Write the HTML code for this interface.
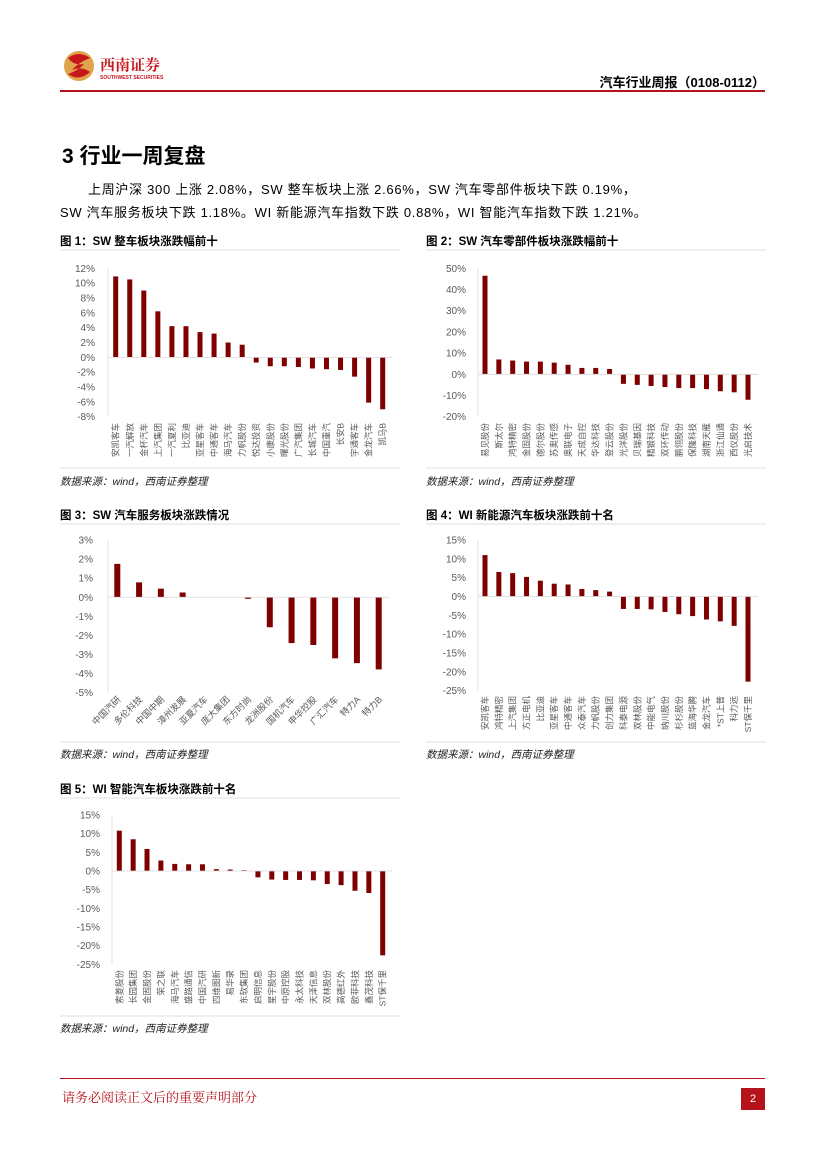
<!DOCTYPE html>
<html><head><meta charset="utf-8">
<style>
body{margin:0;background:#fff;}
#page{position:relative;width:827px;height:1169px;overflow:hidden;background:#fff;font-family:"Liberation Sans","Noto Sans CJK SC",sans-serif;color:#000;}
.abs{position:absolute;white-space:nowrap;}
.ftitle{font-size:11.5px;font-weight:bold;}
.src{font-size:10.5px;font-style:italic;color:#222;}
.para{font-size:13px;letter-spacing:0.7px;}
</style></head><body>
<div id="page">
  <svg class="abs" style="left:62px;top:48px" width="110" height="40">
    <circle cx="17" cy="18" r="15" fill="#e0a44a"/>
    <path d="M6 10 Q17 2 28 10 Q17 14 10 22 Q20 18 28 24 Q17 34 6 26 Q17 22 22 16 Q12 18 6 10Z" fill="#c8161d"/>
    <text x="38" y="22" font-size="15" font-weight="bold" fill="#c8161d" font-family="Noto Serif CJK SC,serif">西南证券</text>
    <text x="38" y="31" font-size="5" font-weight="bold" fill="#c8161d">SOUTHWEST SECURITIES</text>
  </svg>
  <div class="abs" style="right:62px;top:72px;font-size:13px;font-weight:bold">汽车行业周报（0108-0112）</div>
  <div class="abs" style="left:60px;top:90px;width:705px;height:2px;background:#b5121b"></div>

  <div class="abs" style="left:62px;top:140px;font-size:21px;font-weight:bold">3 行业一周复盘</div>
  <div class="abs para" style="left:88px;top:179px">上周沪深 300 上涨 2.08%，SW 整车板块上涨 2.66%，SW 汽车零部件板块下跌 0.19%，</div>
  <div class="abs para" style="left:60px;top:202px">SW 汽车服务板块下跌 1.18%。WI 新能源汽车指数下跌 0.88%，WI 智能汽车指数下跌 1.21%。</div>

  <div class="abs ftitle" style="left:60px;top:233px">图 1：SW 整车板块涨跌幅前十</div>
  <div class="abs ftitle" style="left:426px;top:233px">图 2：SW 汽车零部件板块涨跌幅前十</div>
  <div class="abs src" style="left:60px;top:474px">数据来源：wind，西南证券整理</div>
  <div class="abs src" style="left:426px;top:474px">数据来源：wind，西南证券整理</div>
  <div class="abs ftitle" style="left:60px;top:507px">图 3：SW 汽车服务板块涨跌情况</div>
  <div class="abs ftitle" style="left:426px;top:507px">图 4：WI 新能源汽车板块涨跌前十名</div>
  <div class="abs src" style="left:60px;top:747px">数据来源：wind，西南证券整理</div>
  <div class="abs src" style="left:426px;top:747px">数据来源：wind，西南证券整理</div>
  <div class="abs ftitle" style="left:60px;top:781px">图 5：WI 智能汽车板块涨跌前十名</div>
  <div class="abs src" style="left:60px;top:1021px">数据来源：wind，西南证券整理</div>

  <svg id="charts" class="abs" style="left:0;top:0" width="827" height="1169"></svg>

  <div class="abs" style="left:60px;top:1078px;width:705px;height:1px;background:#b5121b"></div>
  <div class="abs" style="left:62px;top:1087px;font-size:13px;color:#b5121b;font-family:'Noto Serif CJK SC',serif">请务必阅读正文后的重要声明部分</div>
  <div class="abs" style="left:741px;top:1088px;width:24px;height:22px;background:#b5121b;color:#fff;font-size:11px;text-align:center;line-height:22px">2</div>
</div>
<script>
const c1Cats=["安凯客车","一汽解放","金杯汽车","上汽集团","一汽夏利","比亚迪","亚星客车","中通客车","海马汽车","力帆股份","悦达投资","小康股份","曙光股份","广汽集团","长城汽车","中国重汽","长安B","宇通客车","金龙汽车","凯马B"];
const c1Vals=[10.9,10.5,9.0,6.2,4.2,4.2,3.4,3.2,2.0,1.7,-0.7,-1.2,-1.2,-1.3,-1.5,-1.6,-1.7,-2.6,-6.1,-7.0];
const c1Ticks=[12,10,8,6,4,2,0,-2,-4,-6,-8];
const c2Cats=["易见股份","斯太尔","鸿特精密","金固股份","德尔股份","苏奥传感","奥联电子","天成自控","华达科技","登云股份","光洋股份","贝瑞基因","精锻科技","双环传动","鹏翎股份","保隆科技","湖南天雁","浙江仙通","西仪股份","光启技术"];
const c2Vals=[46.5,7,6.5,6,6,5.5,4.5,3,3,2.5,-4.5,-5,-5.5,-6,-6.5,-6.5,-7,-8,-8.5,-12];
const c2Ticks=[50,40,30,20,10,0,-10,-20];
const c3Cats=["中国汽研","多伦科技","中国中期","漳州发展","亚夏汽车","庞大集团","东方时尚","龙洲股份","国机汽车","申华控股","广汇汽车","特力A","特力B"];
const c3Vals=[1.75,0.78,0.45,0.25,0,0,-0.08,-1.57,-2.4,-2.5,-3.2,-3.45,-3.78];
const c3Ticks=[3,2,1,0,-1,-2,-3,-4,-5];
const c4Cats=["安凯客车","鸿特精密","上汽集团","方正电机","比亚迪","亚星客车","中通客车","众泰汽车","力帆股份","创力集团","科泰电源","双林股份","中能电气","纳川股份","杉杉股份","蓝海华腾","金龙汽车","*ST上普","科力远","ST保千里"];
const c4Vals=[11,6.5,6.2,5.2,4.2,3.4,3.2,2,1.7,1.3,-3.3,-3.3,-3.4,-4.1,-4.7,-5.2,-6.1,-6.6,-7.8,-22.6];
const c4Ticks=[15,10,5,0,-5,-10,-15,-20,-25];
const c5Cats=["索菱股份","长园集团","金固股份","荣之联","海马汽车","盛路通信","中国汽研","四维图新","易华录","东软集团","启明信息","星宇股份","中原控股","永太科技","天泽信息","双林股份","高德红外","欧菲科技","鑫茂科技","ST保千里"];
const c5Vals=[10.8,8.5,5.9,2.8,1.9,1.8,1.8,0.5,0.4,0.2,-1.7,-2.3,-2.4,-2.4,-2.5,-3.5,-3.8,-5.3,-5.9,-22.6];
const c5Ticks=[15,10,5,0,-5,-10,-15,-20,-25];

const NS="http://www.w3.org/2000/svg";
const svg=document.getElementById('charts');
function mk(tag,attrs,parent){const e=document.createElementNS(NS,tag);for(const k in attrs)e.setAttribute(k,attrs[k]);(parent||svg).appendChild(e);return e;}

function chart(id,cats,vals,ticks,L){
  const g=mk('g',{});
  
  
  const max=ticks[0],min=ticks[ticks.length-1];
  const y=v=>L.yTop+(max-v)/(max-min)*(L.yBot-L.yTop);
  const n=cats.length;
  const x=i=>L.xFirst+i*(L.xLast-L.xFirst)/(n-1);
  const ax=mk('line',{x1:L.axisX,x2:L.axisX,y1:L.yTop,y2:L.yBot,stroke:'#d9d9d9','stroke-width':0.8},g);
  
  
  ticks.forEach(t=>{
    const tl=mk('text',{x:L.tickX,y:y(t)+3.5,'text-anchor':'end','font-size':10,fill:'#595959'},g);
    tl.textContent=t+'%';
    
    
  });
  vals.forEach((v,i)=>{
    const y0=y(0),yv=y(v);
    const r=mk('rect',{x:x(i)-L.bw/2,y:Math.min(y0,yv),width:L.bw,height:Math.max(Math.abs(yv-y0),0.01),fill:'#7f0000'},g);
    
    
  });
  const zl=mk('line',{x1:L.axisX,x2:L.xEnd,y1:y(0),y2:y(0),stroke:'#d9d9d9','stroke-width':0.8},g);
  
  
  cats.forEach((c,i)=>{
    let t;
    if(L.rot45){
      t=mk('text',{x:x(i)+4,y:L.labelY,'text-anchor':'end','font-size':9,fill:'#595959',transform:`rotate(-45 ${x(i)+4} ${L.labelY})`},g);
    }else{
      t=mk('text',{x:x(i)+3,y:L.labelY,'text-anchor':'end','font-size':8.5,fill:'#595959',transform:`rotate(-90 ${x(i)+3} ${L.labelY})`},g);
    }
    t.textContent=c;
    
    
  });
}
chart('chart-sw-vehicles',c1Cats,c1Vals,c1Ticks,{yTop:268.3,yBot:416.7,xFirst:115.7,xLast:382.7,axisX:108,xEnd:392,tickX:95,bw:5,labelY:423});
chart('chart-sw-parts',c2Cats,c2Vals,c2Ticks,{yTop:268.3,yBot:416.7,xFirst:485,xLast:748,axisX:478,xEnd:758,tickX:466,bw:5,labelY:423});
chart('chart-sw-services',c3Cats,c3Vals,c3Ticks,{yTop:540,yBot:692.7,xFirst:117.3,xLast:378.7,axisX:108,xEnd:390,tickX:93,bw:6,labelY:700,rot45:true});
chart('chart-wi-nev',c4Cats,c4Vals,c4Ticks,{yTop:540,yBot:690.7,xFirst:485,xLast:748,axisX:478,xEnd:758,tickX:466,bw:5,labelY:696});
chart('chart-wi-smart',c5Cats,c5Vals,c5Ticks,{yTop:815,yBot:964.3,xFirst:119.3,xLast:382.7,axisX:112,xEnd:392,tickX:100,bw:5,labelY:970});

[[60,250,400],[426,250,766],[60,524,400],[426,524,766],[60,798,400]].forEach(a=>{
  const l=mk('line',{x1:a[0],x2:a[2],y1:a[1],y2:a[1],stroke:'#bfbfbf','stroke-width':0.6});
  
  
});
[[60,468,400],[426,468,766],[60,742,400],[426,742,766],[60,1016,400]].forEach(a=>{
  const l=mk('line',{x1:a[0],x2:a[2],y1:a[1],y2:a[1],stroke:'#bfbfbf','stroke-width':0.6});
  
  
});
</script>
</body></html>
